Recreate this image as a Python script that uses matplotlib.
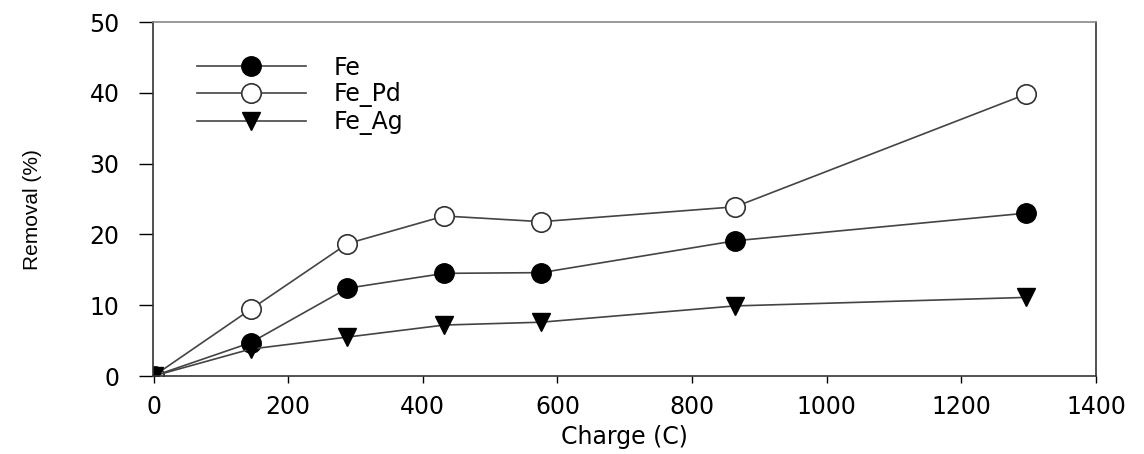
import matplotlib.pyplot as plt

plt.rcParams['font.family'] = ['DejaVu Sans']

# charge (C) and removal (%)
charge = [0, 144, 288, 432, 576, 864, 1296]
fe = [0, 4.7, 12.4, 14.5, 14.6, 19.1, 23.0]
fe_pd = [0, 9.4, 18.7, 22.6, 21.8, 23.9, 39.8]
fe_ag = [0, 3.8, 5.5, 7.2, 7.6, 9.9, 11.1]
labels = ['Fe', 'Fe_Pd', 'Fe_Ag']

fig = plt.figure(figsize=(11.44, 4.54), dpi=100)
ax = fig.add_axes([0.1337, 0.1718, 0.8243, 0.7797])

line_kw = dict(color='#444444', linewidth=1.2)
ax.plot(charge, fe, marker='o', ms=14, mfc='black', mec='black', label=labels[0], **line_kw)
ax.plot(charge, fe_pd, marker='o', ms=14, mfc='white', mec='#333333', mew=1.2, label=labels[1], **line_kw)
ax.plot(charge, fe_ag, marker='v', ms=13, mfc='black', mec='black', label=labels[2], **line_kw)

ax.set_xlim(-1, 1400)
ax.set_ylim(0, 50)
ax.set_xticks(range(0, 1401, 200))
ax.set_yticks(range(0, 51, 10))
ax.tick_params(axis='y', direction='out', length=10, width=1, labelsize=17, pad=14)
ax.tick_params(axis='x', direction='out', length=5, width=1, labelsize=17, pad=9)

for s in ax.spines.values():
    s.set_linewidth(1.2)
    s.set_color('#333333')
ax.spines['top'].set_color('#888888')

ax.set_xlabel('Charge (C)', fontsize=17, labelpad=4)
ax.set_ylabel('Removal (%)', fontsize=15, family=['Liberation Sans Narrow', 'Liberation Sans'])
ax.yaxis.set_label_coords(-0.118, 0.469)

ax.legend(loc='upper left', bbox_to_anchor=(0.0467, 0.905), frameon=False,
          fontsize=17, handlelength=4.6, handletextpad=1.2, labelspacing=0.12,
          borderaxespad=0, borderpad=0)

fig.savefig('out.png', dpi=100)
